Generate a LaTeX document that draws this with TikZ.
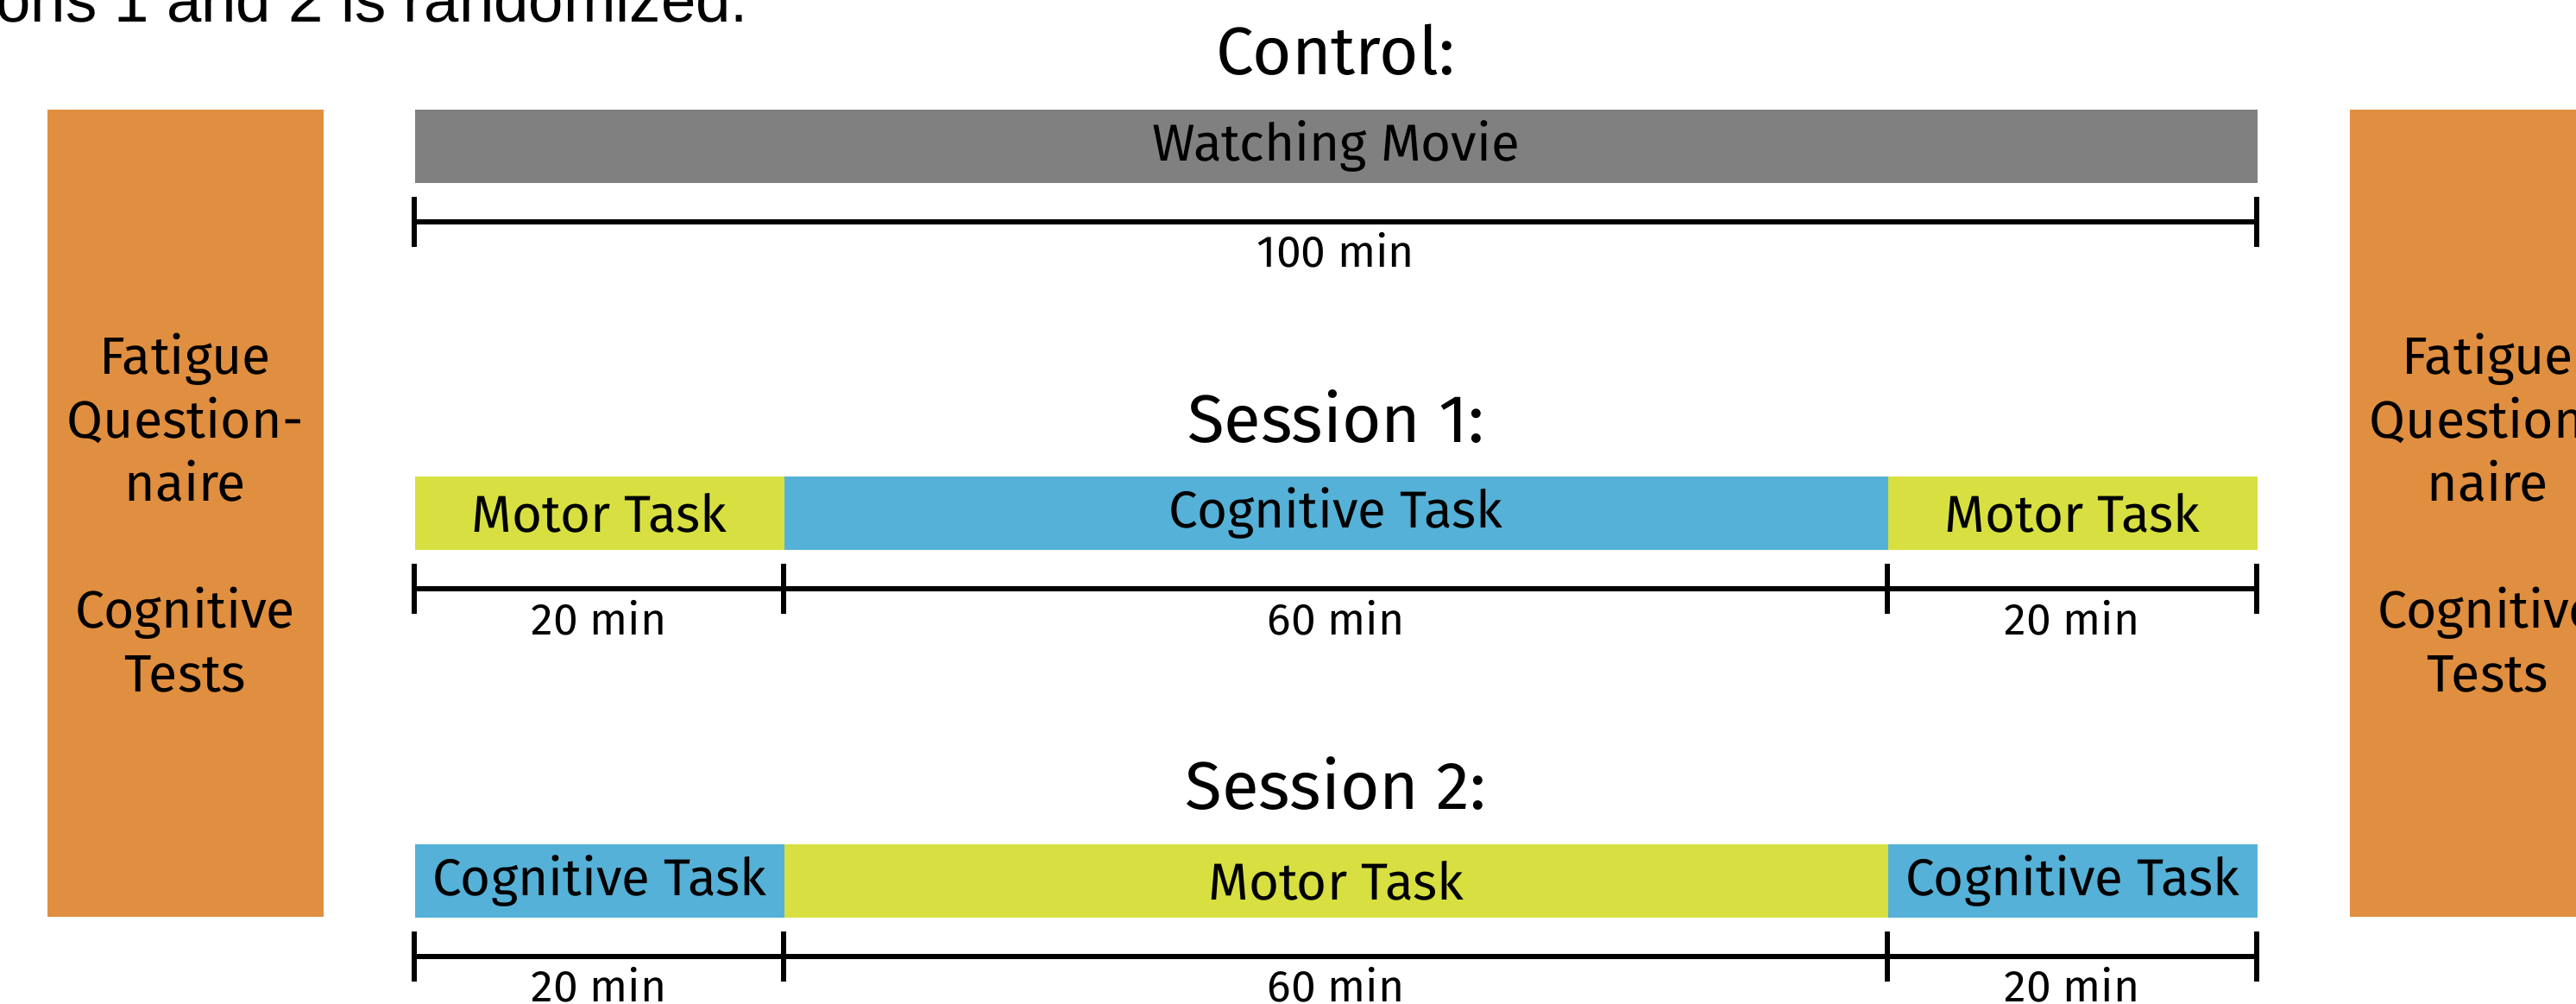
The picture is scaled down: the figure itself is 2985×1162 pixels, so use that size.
\documentclass[tikz,border=0pt]{standalone}
\usepackage{fontspec}
\setmainfont{Fira Sans}
\newfontfamily\notefont{Liberation Sans}
\definecolor{qorange}{HTML}{E08E3F}
\definecolor{qlime}{HTML}{D7E040}
\definecolor{qcyan}{HTML}{55B1D7}
\definecolor{qgray}{HTML}{808080}
\tikzset{
  bar/.style={rectangle, inner sep=0pt, minimum height=8.5mm, anchor=north west,
    font=\fontsize{17.1pt}{20pt}\selectfont},
  title/.style={anchor=base, inner sep=0pt, font=\fontsize{22.2pt}{26pt}\selectfont},
  dur/.style={anchor=base, inner sep=0pt, font=\fontsize{14.65pt}{17pt}\selectfont},
  tl/.style={line width=0.6mm},
  sidebox/.style={rectangle, fill=qorange, inner sep=0pt, minimum width=32mm,
    minimum height=93.5mm, anchor=north west, align=center,
    font=\fontsize{17.3pt}{20.9pt}\selectfont}
}
\begin{document}
\begin{tikzpicture}[x=0.1mm,y=-0.1mm]
\clip (0,0) rectangle (2985,1162);
\fill[white] (0,0) rectangle (2985,1162);

% note at top (cut off)
\node[anchor=base east, inner sep=0pt, font=\notefont\fontsize{20.66pt}{24pt}\selectfont] (note) at (868,25) {ons 1 and 2 is randomized.};

% side boxes
\node[sidebox] (leftbox) at (54,126) {Fatigue\\Question-\\naire\\[20.9pt]Cognitive\\Tests};
\node[sidebox] (rightbox) at (2722,126) {Fatigue\\Question-\\naire\\[20.9pt]Cognitive\\Tests};

% Control
\node[title] (tc) at (1548,86) {Control:};
\node[bar, fill=qgray, minimum width=213.5mm] (movie) at (480,126) {Watching Movie};
\coordinate (c0) at (480,257);
\coordinate (c1) at (2615,257);
\draw[tl] (c0) -- (c1);
\draw[tl] (c0) ++(0,-29) -- ++(0,58);
\draw[tl] (c1) ++(0,-29) -- ++(0,58);
\node[dur] (dc) at (1548,309) {100 min};

% Session 1
\node[title] (ts1) at (1548,512) {Session 1:};
\node[bar, fill=qlime, minimum width=42.8mm] (s1a) at (480,551) {Motor Task};
\node[bar, fill=qcyan, minimum width=127.9mm] (s1b) at (908,551) {Cognitive Task};
\node[bar, fill=qlime, minimum width=42.8mm] (s1c) at (2187,551) {Motor Task};
\coordinate (a0) at (480,682);
\coordinate (a1) at (908,682);
\coordinate (a2) at (2187,682);
\coordinate (a3) at (2615,682);
\draw[tl] (a0) -- (a3);
\foreach \p in {a0,a1,a2,a3} { \draw[tl] (\p) ++(0,-29) -- ++(0,58); }
\node[dur] (d1a) at (694,735) {20 min};
\node[dur] (d1b) at (1548,735) {60 min};
\node[dur] (d1c) at (2401,735) {20 min};

% Session 2
\node[title] (ts2) at (1548,937) {Session 2:};
\node[bar, fill=qcyan, minimum width=42.8mm] (s2a) at (480,977) {Cognitive Task};
\node[bar, fill=qlime, minimum width=127.9mm] (s2b) at (908,977) {Motor Task};
\node[bar, fill=qcyan, minimum width=42.8mm] (s2c) at (2187,977) {Cognitive Task};
\coordinate (b0) at (480,1108);
\coordinate (b1) at (908,1108);
\coordinate (b2) at (2187,1108);
\coordinate (b3) at (2615,1108);
\draw[tl] (b0) -- (b3);
\foreach \p in {b0,b1,b2,b3} { \draw[tl] (\p) ++(0,-29) -- ++(0,58); }
\node[dur] (d2a) at (694,1160) {20 min};
\node[dur] (d2b) at (1548,1160) {60 min};
\node[dur] (d2c) at (2401,1160) {20 min};
\end{tikzpicture}
\end{document}
